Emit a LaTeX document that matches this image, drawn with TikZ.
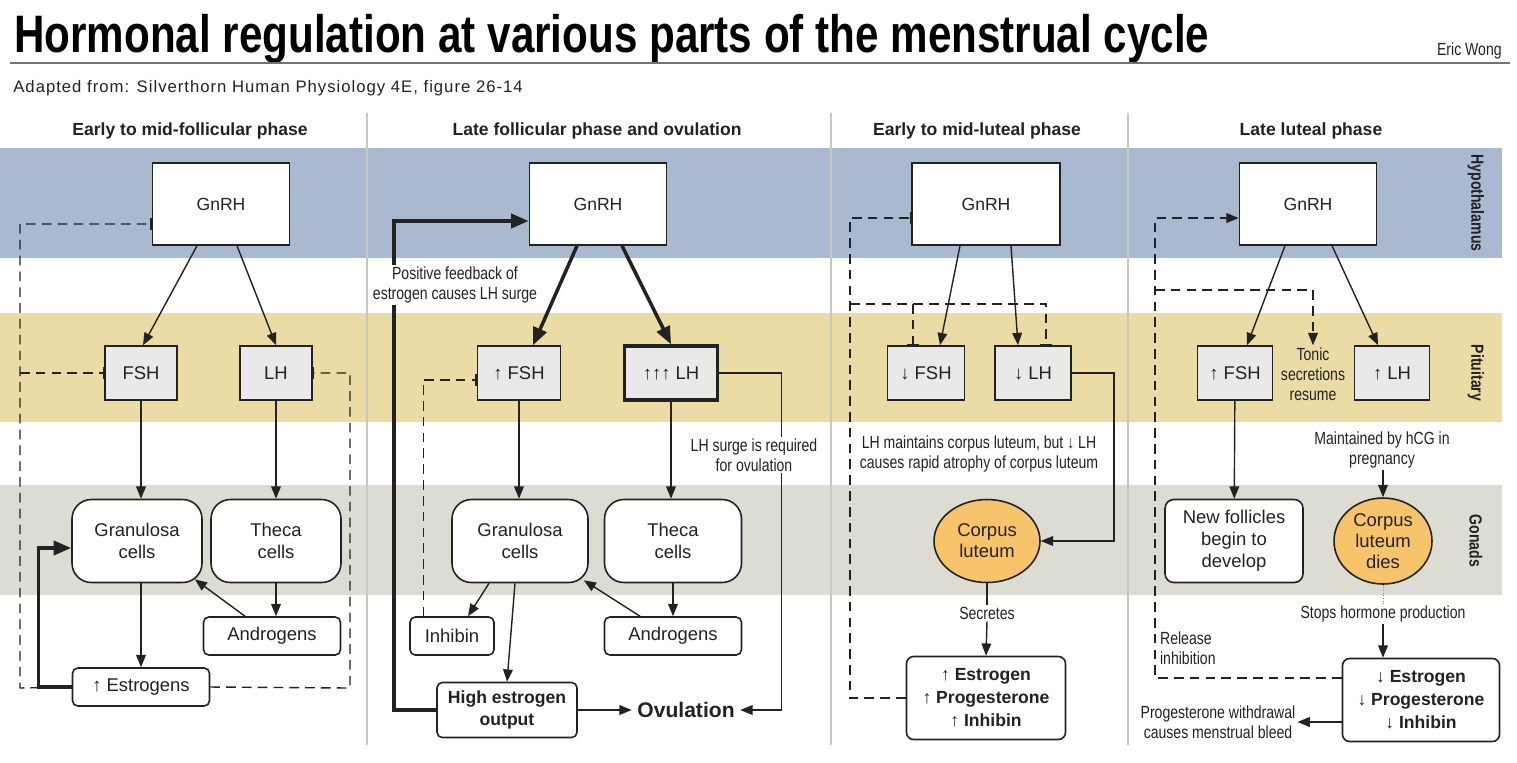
\documentclass[tikz,border=0pt]{standalone}
\usepackage{fontspec}
\setmainfont{Liberation Sans}
\setsansfont{Liberation Sans}
\newfontfamily\narrowfont[FakeStretch=0.8]{Liberation Sans}
\newfontfamily\titlefont[FakeStretch=0.8]{Liberation Sans}
\newfontfamily\spacedfont[LetterSpace=6]{Liberation Sans}
\usetikzlibrary{arrows.meta,shapes.geometric,calc}
\definecolor{hypoblue}{HTML}{A9B9CF}
\definecolor{pittan}{HTML}{EBDCA5}
\definecolor{gongrey}{HTML}{DCDCD2}
\definecolor{divgrey}{HTML}{C8C8BF}
\definecolor{pitfill}{HTML}{E9E9E9}
\definecolor{lutorange}{HTML}{F7C46C}
\definecolor{inkgrey}{HTML}{222222}

\begin{document}
\begin{tikzpicture}[x=0.02cm, y=-0.02cm,
  text=inkgrey,
  hyp/.style={draw=inkgrey, line width=0.9pt, fill=white, minimum width=2.74cm, minimum height=1.64cm, inner sep=0pt, font=\fontsize{10}{12}\selectfont},
  pit/.style={draw=inkgrey, line width=0.9pt, fill=pitfill, minimum width=1.44cm, minimum height=1.08cm, inner sep=0pt, font=\fontsize{10.5}{12}\selectfont},
  cell/.style={draw=inkgrey, line width=0.9pt, fill=white, rounded corners=11pt, minimum width=2.6cm, minimum height=1.66cm, inner sep=0pt, align=center, font=\fontsize{10.5}{12.5}\selectfont},
  prod/.style={draw=inkgrey, line width=0.9pt, fill=white, rounded corners=3pt, minimum width=2.74cm, minimum height=0.76cm, inner sep=0pt, align=center, font=\fontsize{10.5}{12.5}\selectfont},
  lut/.style={ellipse, draw=inkgrey, line width=0.9pt, fill=lutorange, minimum width=2.12cm, minimum height=1.66cm, inner sep=0pt, align=center, font=\fontsize{10.5}{12}\selectfont},
  outc/.style={draw=inkgrey, line width=0.9pt, fill=white, rounded corners=4pt, minimum width=3.18cm, minimum height=1.66cm, inner sep=0pt, align=center, font=\bfseries\fontsize{10}{13}\selectfont},
  note/.style={font=\narrowfont\fontsize{10}{11.5}\selectfont, align=center, inner sep=1pt},
  head/.style={font=\bfseries\fontsize{10}{12}\selectfont, inner sep=0pt},
  side/.style={font=\narrowfont\bfseries\fontsize{10}{11}\selectfont, rotate=-90, inner sep=0pt},
  divider/.style={draw=divgrey, line width=1.6pt},
  arr/.style={-{Triangle[length=7pt,width=5.5pt]}, line width=0.8pt, draw=inkgrey},
  tarr/.style={-{Triangle[length=10pt,width=8pt]}, line width=2pt, draw=inkgrey},
  darr/.style={-{Triangle[length=7pt,width=5.5pt]}, line width=0.8pt, draw=inkgrey, dash pattern=on 5.5pt off 3.5pt},
  dinh/.style={-{Bar[width=7pt]}, line width=0.8pt, draw=inkgrey, dash pattern=on 5.5pt off 3.5pt},
]
  \useasboundingbox (0,0) rectangle (1517,762);

  % bands and dividers
  \fill[hypoblue] (0,148) rectangle (1502,258);
  \fill[pittan] (0,313) rectangle (1502,422);
  \fill[gongrey] (0,485) rectangle (1502,595);
  \foreach \xd in {367,831,1128} \draw[divider] (\xd,113) -- (\xd,745);

  % title
  \node[anchor=base west, inner sep=0pt, font=\titlefont\bfseries\fontsize{30}{32}\selectfont, text=black] (title) at (14,52) {Hormonal regulation at various parts of the menstrual cycle};
  \draw[line width=1.6pt, black!55] (10,63) -- (1510,63);
  \node[anchor=base east, inner sep=0pt, font=\narrowfont\fontsize{10}{11}\selectfont] (author) at (1502,55) {Eric Wong};
  \node[anchor=base west, inner sep=0pt, font=\spacedfont\fontsize{9.5}{11}\selectfont] (source) at (13,92) {Adapted from: Silverthorn Human Physiology 4E, figure 26-14};

  % phase headers + side labels
  \node[head] (h1) at (190,131) {Early to mid-follicular phase};
  \node[head] (h2) at (597,131) {Late follicular phase and ovulation};
  \node[head] (h3) at (977,131) {Early to mid-luteal phase};
  \node[head] (h4) at (1311,131) {Late luteal phase};
  \node[side] (lhyp) at (1476,203) {Hypothalamus};
  \node[side] (lpit) at (1476,373) {Pituitary};
  \node[side] (lgon) at (1476,541) {Gonads};

  % early to mid-follicular
  \node[hyp] (gnrh1) at (221,204) {GnRH};
  \node[pit] (fsh1) at (141,373) {FSH};
  \node[pit] (lh1) at (276,373) {LH};
  \node[cell] (gran1) at (137,541) {Granulosa\\cells};
  \node[cell] (thec1) at (276,541) {Theca\\cells};
  \node[prod] (andr1) at (272,636) {Androgens};
  \node[prod] (estr1) at (141,687) {↑ Estrogens};
  \draw[arr] ($(gnrh1.south)+(-24,0)$) -- ($(fsh1.north)+(2,0)$);
  \draw[arr] ($(gnrh1.south)+(16,0)$) -- (lh1.north);
  \draw[arr] (fsh1) -- (fsh1 |- gran1.north);
  \draw[arr] (lh1) -- (thec1);
  \draw[arr] (thec1) -- (thec1 |- andr1.north);
  \draw[arr] ($(andr1.north)+(-27,0)$) -- ($(gran1.south east)+(-8,-4)$);
  \draw[arr] (gran1.south -| fsh1) -- (estr1.north -| fsh1);
  \draw[tarr] (estr1.west) -- ++(-33,0) |- ($(gran1.west)+(0,7)$);
  \coordinate (fb1) at (20,688);
  \coordinate (fr1) at (350,688);
  \draw[dinh] (estr1.west) -- (fb1) |- ($(gnrh1.west)+(0,20)$);
  \draw[dinh] (fb1 |- fsh1.west) -- (fsh1.west);
  \draw[dinh] (estr1.east) -- (fr1) |- (lh1.east);

  % late follicular + ovulation
  \node[hyp] (gnrh2) at (598,204) {GnRH};
  \node[pit, minimum width=1.66cm] (fsh2) at (519,373) {↑ FSH};
  \node[pit, minimum width=1.86cm, line width=2pt] (lh2) at (671,373) {↑↑↑ LH};
  \node[cell, minimum width=2.72cm] (gran2) at (520,541) {Granulosa\\cells};
  \node[cell, minimum width=2.74cm] (thec2) at (673,541) {Theca\\cells};
  \node[prod, minimum width=1.68cm] (inh2) at (452,636) {Inhibin};
  \node[prod] (andr2) at (673,636) {Androgens};
  \node[prod, minimum width=2.8cm, minimum height=1.1cm, font=\bfseries\fontsize{10}{12.5}\selectfont] (hiest) at (507,710) {High estrogen\\output};
  \node[inner sep=3pt, font=\bfseries\fontsize{12}{14}\selectfont] (ovul) at (686,710) {Ovulation};
  \draw[tarr] ($(gnrh2.south)+(-21,0)$) -- ($(fsh2.north)+(14,0)$);
  \draw[tarr] ($(gnrh2.south)+(24,0)$) -- (lh2.north);
  \draw[arr] (fsh2) -- (fsh2 |- gran2.north);
  \draw[arr] (lh2) -- (lh2 |- thec2.north);
  \draw[arr] (thec2) -- (andr2);
  \draw[arr] ($(andr2.north)+(-33,0)$) -- ($(gran2.south east)+(-5,-3)$);
  \draw[arr] ($(gran2.south)+(-31,0)$) -- ($(inh2.north)+(16,0)$);
  \draw[arr] ($(gran2.south)+(-5,0)$) -- (hiest.north);
  \draw[arr] (hiest) -- (ovul);
  \draw[tarr] (hiest.west) -- ++(-42,0) |- ($(gnrh2.west)+(0,17)$);
  \draw[dinh] ($(inh2.north west)+(14,0)$) |- ($(fsh2.west)+(0,7)$);
  \draw[arr] (lh2.east) -- ++(62,0) |- (ovul.east);
  \node[note, fill=white] (posfb) at (455,285) {Positive feedback of\\estrogen causes LH surge};
  \node[note, fill=white] (lhsurge) at (754,455) {LH surge is required\\for ovulation};

  % early to mid-luteal
  \node[hyp, minimum width=2.96cm] (gnrh3) at (986,204) {GnRH};
  \node[pit, minimum width=1.54cm] (fsh3) at (926,373) {↓ FSH};
  \node[pit, minimum width=1.52cm] (lh3) at (1033,373) {↓ LH};
  \node[lut] (cl3) at (987,541) {Corpus\\luteum};
  \node[note] (secr3) at (987,613) {Secretes};
  \node[outc] (out3) at (986,698) {↑ Estrogen\\↑ Progesterone\\↑ Inhibin};
  \node[note] (lhmaint) at (979,454) {LH maintains corpus luteum, but ↓ LH\\causes rapid atrophy of corpus luteum};
  \draw[arr] ($(gnrh3.south)+(-26,0)$) -- ($(fsh3.north)+(14,0)$);
  \draw[arr] ($(gnrh3.south)+(25,0)$) -- ($(lh3.north)+(-15,0)$);
  \draw[arr] (lh3.east) -- ++(42,0) |- (cl3.east);
  \draw[line width=0.8pt, draw=inkgrey] (cl3.south) -- (secr3.north);
  \draw[arr] (secr3.south) -- (out3.north);
  \coordinate (fb3) at (850,698);
  \coordinate (br3) at (850,304);
  \coordinate (fsh3in) at ($(fsh3.north)+(-13,0)$);
  \draw[dinh] (out3.west) -- (fb3) |- ($(gnrh3.west)+(0,14)$);
  \draw[dinh] (br3) -| ($(lh3.north)+(13,0)$);
  \draw[dinh] (fsh3in |- br3) -- (fsh3in);

  % late luteal
  \node[hyp] (gnrh4) at (1308,204) {GnRH};
  \node[pit, minimum width=1.5cm] (fsh4) at (1235,373) {↑ FSH};
  \node[pit, minimum width=1.5cm] (lh4) at (1392,373) {↑ LH};
  \node[note] (tonic) at (1313,374) {Tonic\\secretions\\resume};
  \node[note] (hcg) at (1382,450) {Maintained by hCG in\\pregnancy};
  \node[cell, rounded corners=5pt, minimum width=2.76cm] (newfol) at (1234,541) {New follicles\\begin to\\develop};
  \node[lut, minimum width=1.96cm, minimum height=1.72cm] (cl4) at (1383,541) {Corpus\\luteum\\dies};
  \node[note] (stops) at (1383,614) {Stops hormone production};
  \node[outc, minimum width=3.14cm] (out4) at (1421,700) {↓ Estrogen\\↓ Progesterone\\↓ Inhibin};
  \node[note, anchor=west, align=left] (release) at (1158,648) {Release\\inhibition};
  \node[note] (bleed) at (1218,722) {Progesterone withdrawal\\causes menstrual bleed};
  \draw[arr] ($(gnrh4.south)+(-23,0)$) -- ($(fsh4.north)+(12,0)$);
  \draw[arr] ($(gnrh4.south)+(24,0)$) -- ($(lh4.north)+(-14,0)$);
  \draw[arr] (fsh4) -- (newfol);
  \draw[arr] (hcg.south -| cl4) -- (cl4.north);
  \draw[line width=0.5pt, draw=black!50, densely dotted] (cl4.south) -- (stops.north -| cl4);
  \draw[arr] (stops.south -| cl4) -- (out4.north -| cl4);
  \draw[arr] ($(out4.west)+(0,22)$) -- (bleed.east);
  \coordinate (fb4) at (1155,678);
  \coordinate (br4) at (1155,290);
  \draw[darr] (out4.west |- fb4) -- (fb4) |- ($(gnrh4.west)+(0,14)$);
  \draw[darr] (br4) -| (tonic.north);
\end{tikzpicture}
\end{document}
